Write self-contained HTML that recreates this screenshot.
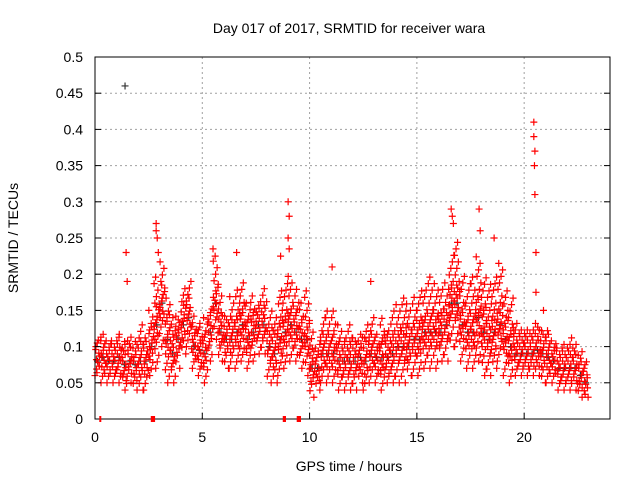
<!DOCTYPE html>
<html><head><meta charset="utf-8"><style>
body{margin:0;background:#fff}
text{font-family:"Liberation Sans",sans-serif;font-size:14px;fill:#000}
</style></head><body>
<svg id="chart" width="640" height="480" xmlns="http://www.w3.org/2000/svg">
<rect width="640" height="480" fill="#fff"/>
<text x="349" y="33" text-anchor="middle">Day 017 of 2017, SRMTID for receiver wara</text>
<text x="349" y="471" text-anchor="middle">GPS time / hours</text>
<text x="18" y="238" text-anchor="middle" transform="rotate(-90 18 238)">SRMTID / TECUs</text>
<g id="grid"></g><g id="marks"></g><g id="axes"></g>
</svg>
<script>
const binStart=[0,.25,.5,.75,1,1.25,1.5,1.75,2,2.25,2.5,2.75,3,3.25,3.5,3.75,4,4.25,4.5,4.75,5,5.25,5.5,5.75,6,6.25,6.5,6.75,7,7.25,7.5,7.75,8,8.25,8.5,8.75,9,9.25,9.5,9.75,10,10.25,10.5,10.75,11,11.25,11.5,11.75,12,12.25,12.5,12.75,13,13.25,13.5,13.75,14,14.25,14.5,14.75,15,15.25,15.5,15.75,16,16.25,16.5,16.75,17,17.25,17.5,17.75,18,18.25,18.5,18.75,19,19.25,19.5,19.75,20,20.25,20.5,20.75,21,21.25,21.5,21.75,22,22.25,22.5,22.75];
const binLow=[.06,.05,.05,.05,.05,.04,.05,.04,.04,.04,.06,.07,.10,.05,.05,.07,.09,.10,.07,.06,.05,.08,.11,.08,.07,.07,.07,.08,.07,.08,.09,.09,.05,.05,.06,.07,.08,.08,.07,.06,.03,.04,.05,.05,.05,.04,.04,.04,.04,.05,.04,.05,.05,.04,.05,.05,.05,.05,.06,.06,.06,.07,.07,.07,.08,.08,.10,.10,.08,.07,.07,.08,.06,.06,.07,.08,.06,.05,.06,.06,.06,.06,.06,.05,.05,.05,.04,.04,.04,.04,.03,.03];
const binMid=[.08,.085,.08,.08,.085,.075,.08,.075,.08,.08,.10,.13,.16,.11,.09,.11,.13,.14,.10,.095,.09,.12,.16,.12,.11,.11,.12,.13,.11,.12,.13,.13,.10,.09,.11,.12,.13,.12,.11,.11,.07,.07,.09,.09,.09,.08,.08,.08,.08,.085,.08,.09,.085,.085,.085,.09,.10,.10,.10,.11,.11,.12,.12,.12,.12,.13,.16,.16,.13,.12,.12,.14,.12,.11,.12,.13,.11,.10,.09,.09,.09,.09,.095,.09,.085,.08,.07,.07,.07,.07,.06,.05];
const binHigh=[.11,.12,.11,.11,.12,.11,.12,.11,.13,.12,.15,.20,.22,.17,.14,.15,.18,.19,.15,.14,.14,.16,.22,.17,.15,.17,.18,.19,.16,.17,.17,.18,.15,.14,.18,.19,.20,.18,.16,.18,.12,.11,.14,.15,.15,.13,.12,.13,.12,.12,.13,.14,.12,.14,.13,.15,.16,.17,.16,.17,.18,.18,.20,.19,.18,.19,.23,.25,.20,.19,.20,.23,.20,.19,.20,.22,.18,.17,.14,.13,.13,.13,.14,.13,.13,.11,.10,.11,.12,.11,.10,.08];
const spikeTime=[1.45,1.5,2.85,2.85,2.9,2.95,5.5,5.6,6.6,8.65,9.0,9.05,9.0,9.05,11.05,12.85,16.6,16.65,16.7,17.9,17.95,18.6,20.45,20.45,20.5,20.48,20.5,20.55,20.55,20.9];
const spikeValue=[.23,.19,.27,.26,.25,.23,.235,.225,.23,.225,.30,.28,.25,.235,.21,.19,.29,.28,.27,.29,.26,.25,.41,.39,.37,.35,.31,.23,.175,.15];
const darkTime=[1.4];
const darkValue=[.46];
const gapStart=[0.2,2.6,8.75,9.4];
const gapEnd=[0.25,2.8,8.9,9.6];
const xTicks=[0,5,10,15,20];
const yTicks=[0,0.05,0.1,0.15,0.2,0.25,0.3,0.35,0.4,0.45,0.5];
const yTickLabels=["0","0.05","0.1","0.15","0.2","0.25","0.3","0.35","0.4","0.45","0.5"];

const L=95,R=610,T=57,B=419;
const X=h=>L+h*(R-L)/24, Y=v=>B-v*(B-T)/0.5;
const NS="http://www.w3.org/2000/svg";
function mk(tag,attrs,parent){const e=document.createElementNS(NS,tag);for(const k in attrs)e.setAttribute(k,attrs[k]);parent.appendChild(e);return e;}
const grid=document.getElementById('grid'),marks=document.getElementById('marks'),axes=document.getElementById('axes');
xTicks.forEach(t=>{
  if(t>0){const g=mk('line',{x1:X(t),x2:X(t),y1:T,y2:B,stroke:'#a0a0a0','stroke-dasharray':'2,3'},grid);
  
  }
  const tk=mk('line',{x1:X(t),x2:X(t),y1:B,y2:B-6,stroke:'#000'},axes);
  
  
  const lb=mk('text',{x:X(t),y:B+23,'text-anchor':'middle'},axes);lb.textContent=t;
  
  
});
yTicks.forEach((v,i)=>{
  if(v>0&&v<0.5){const g=mk('line',{x1:L,x2:R,y1:Y(v),y2:Y(v),stroke:'#a0a0a0','stroke-dasharray':'2,3'},grid);
  
  }
  const tk=mk('line',{x1:L,x2:L+6,y1:Y(v),y2:Y(v),stroke:'#000'},axes);
  
  
  const tk2=mk('line',{x1:R,x2:R-6,y1:Y(v),y2:Y(v),stroke:'#000'},axes);
  
  
  const lb=mk('text',{x:L-12,y:Y(v)+5,'text-anchor':'end'},axes);lb.textContent=yTickLabels[i];
  
  
});
const frame=mk('rect',{x:L,y:T,width:R-L,height:B-T,fill:'none',stroke:'#000'},axes);


function plus(h,v,color,name){
  const x=X(h),y=Y(v);
  const p=mk('path',{d:`M${x-3.5} ${y}H${x+3.5}M${x} ${y-3.5}V${y+3.5}`,stroke:color,'stroke-width':1.2,fill:'none'},marks);
  
  
}
binStart.forEach((t,i)=>{plus(t+0.12,binMid[i],'#333','dark-point');});
binStart.forEach((t,i)=>{
  const lo=binLow[i],hi=binHigh[i],md=binMid[i];
  let k=0;
  for(let v=lo;v<=hi+1e-9;v+=0.009){
    const w=(v<md)?1:0.6;
    plus(t+((k*0.071+i*0.03)%0.25),v,'#f00','srmtid-point');
    if(Math.abs(v-md)<0.03) plus(t+((k*0.113+0.09)%0.25),v+0.004,'#f00','srmtid-point');
    k++;
  }
});
spikeTime.forEach((t,i)=>plus(t,spikeValue[i],'#f00','srmtid-spike'));
darkTime.forEach((t,i)=>plus(t,darkValue[i],'#333','dark-spike'));
gapStart.forEach((s,i)=>{
  const r=mk('rect',{x:X(s),y:B-3,width:Math.max(2,X(gapEnd[i])-X(s)),height:6,fill:'#f00'},axes);
  
  
});
</script>
</body></html>
